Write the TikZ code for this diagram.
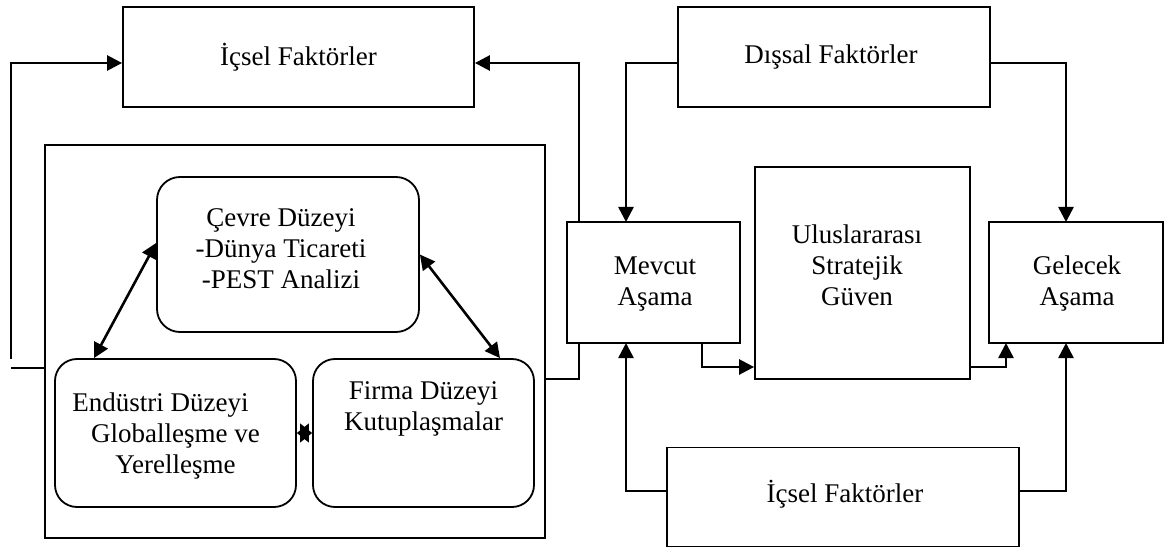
\documentclass[tikz,border=0pt]{standalone}
\usepackage{fontspec}
\setmainfont{Liberation Serif}
\usetikzlibrary{arrows.meta,calc}

\tikzset{
  box/.style={draw, line width=1.8pt, inner sep=0pt},
  rbox/.style={box, rounded corners=23pt},
  lbl/.style={font=\fontsize{27}{31}\selectfont, align=center, inner sep=0pt},
  conn/.style={line width=2.6pt},
  arr/.style={conn, -{Triangle[length=15pt,width=15pt]}},
  darr/.style={conn, {Triangle[length=15pt,width=15pt]}-{Triangle[length=15pt,width=15pt]}},
  star/.style={line width=0.8pt, {Triangle[length=12pt,width=19pt]}-{Triangle[length=12pt,width=19pt]}},
}

\begin{document}
\begin{tikzpicture}[x=1pt,y=-1pt]
\useasboundingbox (0,0) rectangle (1165,548);

% boxes
\node[box, minimum width=351pt, minimum height=100pt] (icT) at (298.5,57) {};
\node[box, minimum width=312pt, minimum height=100pt] (dis) at (834,57) {};
\node[box, minimum width=500pt, minimum height=393pt] (outer) at (295,341.5) {};
\node[rbox, minimum width=262pt, minimum height=155pt] (cevre) at (288,254.5) {};
\node[rbox, rounded corners=22pt, minimum width=241pt, minimum height=148pt] (endu) at (175.5,433) {};
\node[rbox, rounded corners=22pt, minimum width=221pt, minimum height=148pt] (firma) at (423.5,433) {};
\node[box, minimum width=173pt, minimum height=121pt] (mev) at (653.5,282.5) {};
\node[box, minimum width=215pt, minimum height=212pt] (ulus) at (862.5,273) {};
\node[box, minimum width=174pt, minimum height=121pt] (gel) at (1076,282.5) {};
\node[box, minimum width=352pt, minimum height=99pt] (icB) at (843,497) {};

% texts
\node[lbl] (icTt) at (298.5,57) {İçsel Faktörler};
\node[lbl] (dist) at (831,57) {Dışsal Faktörler};
\node[lbl] (cevret) at (281,249) {Çevre Düzeyi\\-Dünya Ticareti\\-PEST Analizi};
\node[lbl] (endut) at (175.5,436) {Endüstri Düzeyi\hbox to 30pt{}\\Globalleşme ve\\Yerelleşme};
\node[lbl] (firmat) at (423.5,409) {Firma Düzeyi\\Kutuplaşmalar};
\node[lbl] (mevt) at (655,284) {Mevcut\\Aşama};
\node[lbl] (ulust) at (857,265) {Uluslararası\\Stratejik\\Güven};
\node[lbl] (gelt) at (1077,284) {Gelecek\\Aşama};
\node[lbl] (icBt) at (845,494) {İçsel Faktörler};

% free ends of the open left loop
\coordinate (lstub) at (11,359);
\coordinate (lend) at (11,368);

% left loop to the upper internal factors
\draw[arr] (lstub) -- (11,63) -- ([yshift=-6pt]icT.west);
\draw[conn] (outer.west |- lend) -- (lend);

% right side of the frame up to the upper internal factors
\draw[conn] (545,379) -| (579,343);
\draw[arr] (579,222) |- ([yshift=-6pt]icT.east);

% external factors
\draw[arr] ([yshift=-6pt]dis.west) -| (626,222);
\draw[arr] ([yshift=-6pt]dis.east) -| (1066,222);

% lower internal factors
\draw[arr] ([yshift=6pt]icB.west) -| (626,343);
\draw[arr] ([yshift=6pt]icB.east) -| (1066,343);

% stage flow
\draw[arr] (702,343) |- (ulus.west |- 0,367);
\draw[arr] (ulus.east |- 0,367) -| (1006,343);

% inner level relations
\draw[darr] ([yshift=11.5pt]cevre.west) -- ([xshift=-81.5pt]endu.north);
\draw[darr] (cevre.east) -- ([xshift=76.5pt]firma.north);
\draw[star] (endu.east) -- (firma.west);
\end{tikzpicture}
\end{document}
